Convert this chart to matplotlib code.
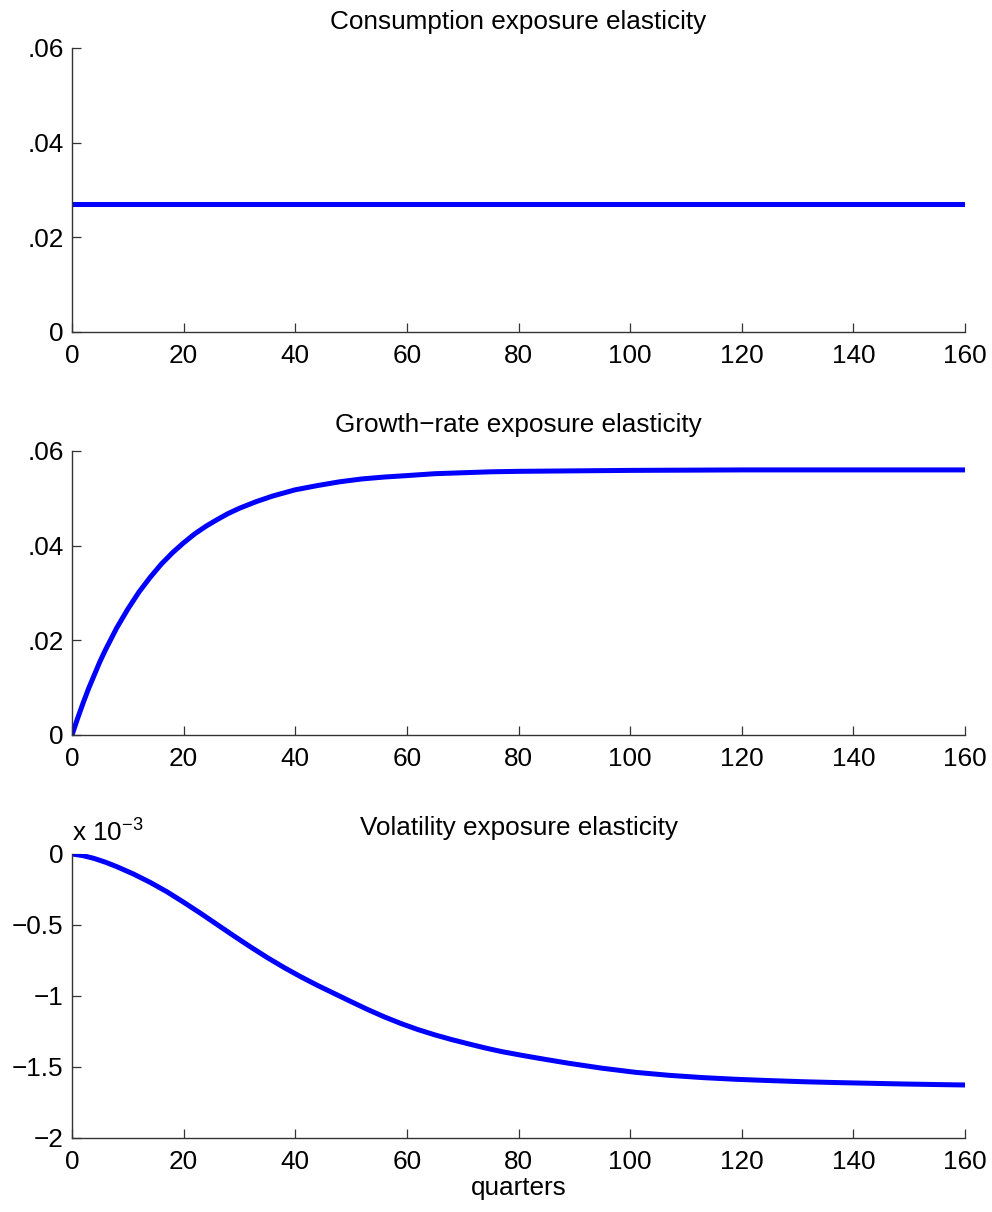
"""
Exposure elasticities over 160 quarters (three stacked panels, MATLAB-style look).
"""

import matplotlib
matplotlib.use('Agg')
import matplotlib.pyplot as plt

plt.rcParams['font.family'] = ['Liberation Sans', 'DejaVu Sans']
FS = 18.8

# Consumption exposure elasticity (flat)
cons_q = [0, 160]
cons_val = [0.0270, 0.0270]

# Growth-rate exposure elasticity
growth_q = [0, 1, 2, 3, 4, 5, 6, 7, 8, 9, 10, 12, 14, 16, 18, 20, 22, 24, 26,
            28, 30, 33, 36, 40, 44, 48, 52, 56, 60, 65, 70, 75, 80, 90, 100,
            120, 140, 160]
growth_val = [0.0, 0.0035, 0.0068, 0.0099, 0.0127, 0.0155, 0.0180, 0.0203,
              0.0226, 0.0246, 0.0266, 0.0302, 0.0333, 0.0361, 0.0385, 0.0406,
              0.0425, 0.0441, 0.0455, 0.0468, 0.0479, 0.0493, 0.0505, 0.0518,
              0.0527, 0.0535, 0.0541, 0.0545, 0.0548, 0.0552, 0.0554, 0.0556,
              0.0557, 0.0558, 0.0559, 0.0560, 0.0560, 0.0560]

# Volatility exposure elasticity, in units of 1e-3
vol_q = [0, 2, 4, 6, 8, 11, 14, 17, 20, 23, 26, 29, 32, 35, 38, 41, 44, 47, 50,
         53, 56, 59, 62, 65, 68, 71, 74, 77, 81, 85, 89, 95, 101, 107, 113,
         119, 125, 131, 137, 143, 149, 155, 160]
vol_val = [0.0, -0.012, -0.032, -0.058, -0.089, -0.141, -0.200, -0.266,
           -0.340, -0.417, -0.497, -0.577, -0.655, -0.730, -0.800, -0.865,
           -0.926, -0.983, -1.040, -1.096, -1.148, -1.195, -1.237, -1.274,
           -1.307, -1.337, -1.366, -1.392, -1.421, -1.448, -1.474, -1.509,
           -1.538, -1.559, -1.575, -1.587, -1.596, -1.604, -1.610, -1.615,
           -1.620, -1.624, -1.627]

x_ticks = [0, 20, 40, 60, 80, 100, 120, 140, 160]
elast_ticks = [0, 0.02, 0.04, 0.06]
elast_labels = ['0', '.02', '.04', '.06']
vol_ticks = [-2, -1.5, -1, -0.5, 0]
vol_labels = ['\u22122', '\u22121.5', '\u22121', '\u22120.5', '0']

titles = ['Consumption exposure elasticity',
          'Growth\u2212rate exposure elasticity',
          'Volatility exposure elasticity']

fig = plt.figure(figsize=(9.92, 12.12), dpi=100)
left, width = 0.0726, 0.9002
bottoms = [0.7261, 0.3936, 0.0611]
height = 0.2343

series = [(cons_q, cons_val), (growth_q, growth_val), (vol_q, vol_val)]
axes = []
for i, (q, v) in enumerate(series):
    ax = fig.add_axes([left, bottoms[i], width, height])
    ax.plot(q, v, color='#0000ff', linewidth=3.6, solid_capstyle='butt',
            solid_joinstyle='round')
    ax.set_xlim(0, 160)
    ax.set_xticks(x_ticks)
    if i < 2:
        ax.set_ylim(0, 0.06)
        ax.set_yticks(elast_ticks)
        ax.set_yticklabels(elast_labels)
    else:
        ax.set_ylim(-2, 0)
        ax.set_yticks(vol_ticks)
        ax.set_yticklabels(vol_labels)
    ax.set_title(titles[i], fontsize=FS, pad=14)
    for side in ['top', 'right']:
        ax.spines[side].set_visible(False)
    for side in ['left', 'bottom']:
        ax.spines[side].set_color('#333333')
        ax.spines[side].set_linewidth(1.0)
    ax.tick_params(axis='both', direction='in', length=6.5, width=0.9,
                   color='#333333', labelsize=FS)
    ax.tick_params(axis='x', pad=9)
    ax.tick_params(axis='y', pad=6)
    axes.append(ax)

# MATLAB-style exponent marker on the last panel
axes[2].text(0.0, 1.03, 'x 10$^{\\mathregular{\u22123}}$', transform=axes[2].transAxes,
             fontsize=FS, ha='left', va='bottom')
axes[2].set_xlabel('quarters', fontsize=FS, labelpad=1)

fig.savefig('out.png', dpi=100)
